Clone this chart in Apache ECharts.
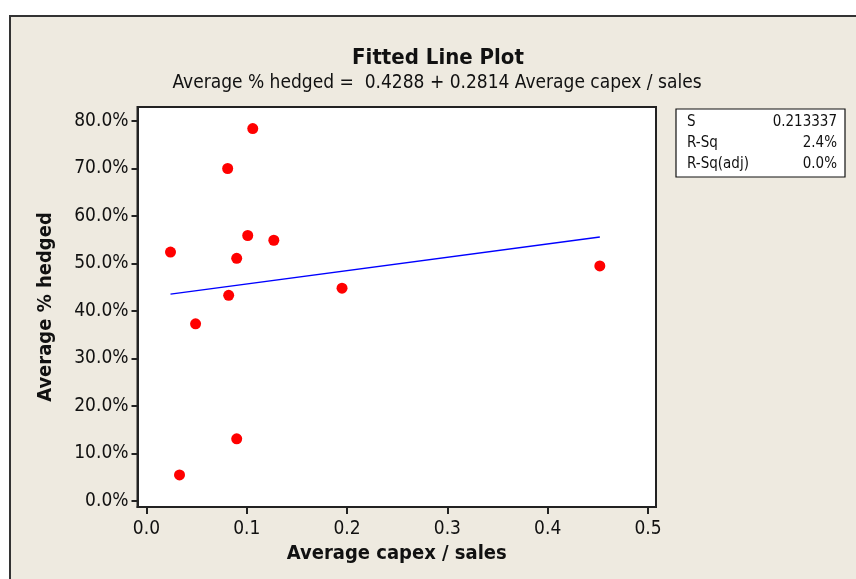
<!DOCTYPE html>
<html>
<head>
<meta charset="utf-8">
<script src="https://cdn.jsdelivr.net/npm/echarts@6/dist/echarts.min.js"></script>
<style>
html,body{margin:0;padding:0;background:#fff;overflow:hidden;width:856px;height:579px;}
#bg{position:absolute;left:9px;top:15px;width:900px;height:700px;background:#EEEAE0;border:2px solid #333;box-sizing:border-box;}
#chart{position:absolute;left:0;top:0;width:856px;height:579px;}
</style>
</head>
<body>
<div id="bg"></div>
<div id="chart"></div>
<script>
// Data
var capexSales = [0.106, 0.081, 0.101, 0.127, 0.024, 0.090, 0.452, 0.195, 0.082, 0.049, 0.090, 0.033];
var pctHedged  = [0.784, 0.700, 0.559, 0.549, 0.524, 0.511, 0.495, 0.448, 0.433, 0.373, 0.131, 0.055];
var fitIntercept = 0.4288;
var fitSlope = 0.2814;
var xTicks = [0.0, 0.1, 0.2, 0.3, 0.4, 0.5];
var yTicks = [0.0, 0.1, 0.2, 0.3, 0.4, 0.5, 0.6, 0.7, 0.8];
var statNames = ['S', 'R-Sq', 'R-Sq(adj)'];
var statValues = ['0.213337', '2.4%', '0.0%'];
var titleText = 'Fitted Line Plot';
var subtitleText = 'Average % hedged =  0.4288 + 0.2814 Average capex / sales';

var FONT = '"DejaVu Sans Condensed", "DejaVu Sans", sans-serif';

var points = capexSales.map(function (x, i) { return [x, pctHedged[i]]; });
var xMinData = Math.min.apply(null, capexSales);
var xMaxData = Math.max.apply(null, capexSales);
var fitLine = [
  [xMinData, fitIntercept + fitSlope * xMinData],
  [xMaxData, fitIntercept + fitSlope * xMaxData]
];

var statGraphics = [{
  type: 'rect',
  shape: { x: 676, y: 109, width: 169, height: 68 },
  style: { fill: '#fff', stroke: '#111', lineWidth: 1.2 }
}];
statNames.forEach(function (n, i) {
  statGraphics.push({
    type: 'text', x: 687, y: 122 + i * 21,
    style: { text: n, font: '15px ' + FONT, fill: '#111', verticalAlign: 'middle', align: 'left' }
  });
  statGraphics.push({
    type: 'text', x: 837, y: 122 + i * 21,
    style: { text: statValues[i], font: '15px ' + FONT, fill: '#111', verticalAlign: 'middle', align: 'right' }
  });
});

var chart = echarts.init(document.getElementById('chart'));
chart.setOption({
  backgroundColor: 'transparent',
  animation: false,
  title: [{
    text: titleText, left: 433, top: 42, textAlign: 'center',
    textStyle: { fontFamily: FONT, fontSize: 22, fontWeight: 'bold', color: '#111' }
  }, {
    text: subtitleText, left: 432, top: 69, textAlign: 'center',
    textStyle: { fontFamily: FONT, fontSize: 19, fontWeight: 'normal', color: '#111' }
  }],
  grid: {
    left: 137.5, right: 200, top: 107, bottom: 72,
    show: true, backgroundColor: '#fff', borderColor: '#222', borderWidth: 2
  },
  xAxis: {
    type: 'value', min: -0.0089, max: 0.508,
    name: 'Average capex / sales', nameLocation: 'middle', nameGap: 36,
    nameTextStyle: { fontFamily: FONT, fontSize: 20, fontWeight: 'bold', color: '#111' },
    axisLine: { show: true, onZero: false, lineStyle: { color: '#222', width: 2 } },
    axisTick: { show: true, length: 7, customValues: xTicks, lineStyle: { color: '#222', width: 2 } },
    axisLabel: { customValues: xTicks, fontFamily: FONT, fontSize: 19, color: '#111', margin: 13,
      formatter: function (v) { return v.toFixed(1); } },
    splitLine: { show: false }
  },
  yAxis: {
    type: 'value', min: -0.0126, max: 0.8295,
    name: 'Average % hedged', nameLocation: 'middle', nameGap: 82, nameRotate: 90,
    nameTextStyle: { fontFamily: FONT, fontSize: 20, fontWeight: 'bold', color: '#111' },
    axisLine: { show: true, onZero: false, lineStyle: { color: '#222', width: 2 } },
    axisTick: { show: true, length: 6, customValues: yTicks, lineStyle: { color: '#222', width: 2 } },
    axisLabel: { customValues: yTicks, fontFamily: FONT, fontSize: 19, color: '#111', margin: 9,
      formatter: function (v) { return (v * 100).toFixed(1) + '%'; } },
    splitLine: { show: false }
  },
  series: [{
    type: 'line', data: fitLine, symbol: 'none',
    lineStyle: { color: '#0000FF', width: 1.5 }, z: 2
  }, {
    type: 'scatter', data: points, symbol: 'circle', symbolSize: 11,
    itemStyle: { color: '#FF0000', opacity: 1 }, z: 3
  }],
  graphic: statGraphics
});
</script>
</body>
</html>
